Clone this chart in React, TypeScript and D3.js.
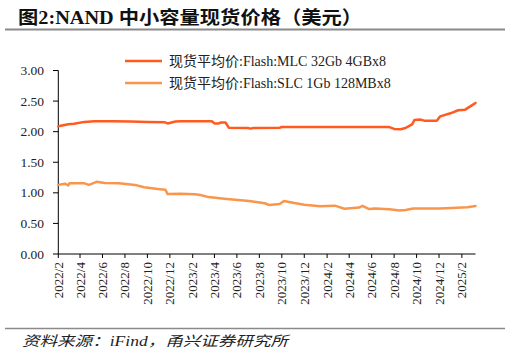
import React from "react";
import * as d3 from "d3";

const titleText = "图2:NAND 中小容量现货价格（美元）";
const sourceText = "资料来源：iFind，甬兴证券研究所";
const seriesNames = ["现货平均价:Flash:MLC 32Gb 4GBx8", "现货平均价:Flash:SLC 1Gb 128MBx8"];
const seriesColors = ["#FF5A1F", "#F9964C"];

const xTickLabels = [
  "2022/2", "2022/4", "2022/6", "2022/8", "2022/10", "2022/12",
  "2023/2", "2023/4", "2023/6", "2023/8", "2023/10", "2023/12",
  "2024/2", "2024/4", "2024/6", "2024/8", "2024/10", "2024/12", "2025/2",
];
const yTicks = [0, 0.5, 1, 1.5, 2, 2.5, 3];

const mlcDates = [
  "2022-02-01", "2022-02-28", "2022-03-16", "2022-04-13", "2022-05-10", "2022-07-01",
  "2022-08-16", "2022-10-01", "2022-11-16", "2022-11-25", "2022-12-16", "2023-01-01",
  "2023-03-25", "2023-04-01", "2023-04-13", "2023-04-19", "2023-05-01", "2023-05-10",
  "2023-07-01", "2023-07-07", "2023-07-16", "2023-09-25", "2023-10-01", "2024-07-19",
  "2024-08-01", "2024-08-19", "2024-09-01", "2024-09-10", "2024-09-19", "2024-09-25",
  "2024-10-10", "2024-10-22", "2024-11-25", "2024-12-04", "2025-01-01", "2025-01-22",
  "2025-02-10", "2025-02-28", "2025-03-10",
];
const mlcValues = [
  2.09, 2.12, 2.13, 2.16, 2.17, 2.17,
  2.165, 2.16, 2.155, 2.135, 2.165, 2.17,
  2.17, 2.135, 2.135, 2.15, 2.15, 2.065,
  2.06, 2.05, 2.06, 2.065, 2.075, 2.075,
  2.045, 2.04, 2.06, 2.09, 2.12, 2.19,
  2.2, 2.18, 2.18, 2.25, 2.3, 2.35,
  2.36, 2.43, 2.47,
];

const slcDates = [
  "2022-02-01", "2022-02-19", "2022-02-28", "2022-03-03", "2022-04-13", "2022-04-25",
  "2022-05-04", "2022-05-16", "2022-06-07", "2022-07-16", "2022-08-28", "2022-09-22",
  "2022-11-04", "2022-11-19", "2022-11-25", "2022-12-28", "2023-02-07", "2023-02-22",
  "2023-03-16", "2023-04-28", "2023-07-04", "2023-08-16", "2023-08-28", "2023-09-25",
  "2023-10-07", "2023-11-04", "2023-12-01", "2024-01-13", "2024-02-22", "2024-03-19",
  "2024-04-28", "2024-05-07", "2024-05-25", "2024-06-10", "2024-07-19", "2024-08-16",
  "2024-09-01", "2024-09-22", "2024-12-04", "2025-02-16", "2025-03-10",
];
const slcValues = [
  1.13, 1.15, 1.12, 1.155, 1.155, 1.13,
  1.15, 1.18, 1.16, 1.155, 1.13, 1.09,
  1.06, 1.05, 0.98, 0.985, 0.975, 0.965,
  0.93, 0.905, 0.866, 0.83, 0.8, 0.817,
  0.866, 0.833, 0.806, 0.78, 0.79, 0.74,
  0.76, 0.785, 0.735, 0.745, 0.73, 0.71,
  0.72, 0.745, 0.745, 0.765, 0.785,
];

const parseDate = d3.timeParse("%Y-%m-%d");
const parseTick = d3.timeParse("%Y/%m");

export default function App() {
  const W = 509, H = 355;
  const x = d3
    .scaleTime()
    .domain([parseDate("2022-02-01")!, parseDate("2025-03-10")!])
    .range([58.3, 475.5]);
  const y = d3.scaleLinear().domain([0, 3]).range([254, 70.5]);

  const line = d3
    .line<[Date, number]>()
    .x((d) => x(d[0]))
    .y((d) => y(d[1]))
    .curve(d3.curveLinear);

  const series = [
    mlcDates.map((d, i) => [parseDate(d)!, mlcValues[i]] as [Date, number]),
    slcDates.map((d, i) => [parseDate(d)!, slcValues[i]] as [Date, number]),
  ];

  const serif = "'Liberation Serif', 'Times New Roman', 'Noto Sans CJK SC', serif";
  const xTicks = xTickLabels.map((l) => ({ label: l, date: parseTick(l)! }));

  return (
    <svg width={W} height={H} style={{ position: "absolute", left: 0, top: 0, background: "#fff" }}>
      <text
        x={18}
        y={24}
        fontFamily={serif}
        fontWeight="bold"
        fontSize={18.5}
        textLength={344}
        lengthAdjust="spacingAndGlyphs"
        fill="#111"
      >
        {titleText}
      </text>
      <line x1={5} x2={505} y1={29.5} y2={29.5} stroke="#8a8a8a" strokeWidth={2} />

      {/* Legend */}
      {seriesNames.map((n, i) => (
        <g key={n} transform={`translate(0, ${61 + i * 22})`}>
          <line x1={125} x2={162} y1={0} y2={0} stroke={seriesColors[i]} strokeWidth={2.5} />
          <text x={169} y={4.8} fontFamily={serif} fontSize={14} fill="#222">
            {n}
          </text>
        </g>
      ))}

      {/* Y axis */}
      <line x1={58.3} x2={58.3} y1={y(3)} y2={y(0)} stroke="#000" strokeWidth={1} />
      {yTicks.map((t) => (
        <g key={t}>
          <line x1={53} x2={58.3} y1={y(t)} y2={y(t)} stroke="#000" />
          <text
            x={44}
            y={y(t) + 4.5}
            textAnchor="end"
            fontFamily={serif}
            fontSize={13.5}
            fill="#222"
          >
            {d3.format(".2f")(t)}
          </text>
        </g>
      ))}

      {/* X axis */}
      <line x1={58.3} x2={475.5} y1={y(0)} y2={y(0)} stroke="#000" strokeWidth={1} />
      {xTicks.map((t) => {
        const xx = x(t.date);
        return (
          <g key={t.label}>
            <line x1={xx} x2={xx} y1={y(0)} y2={y(0) + 4} stroke="#000" />
            <text
              transform={`translate(${xx + 4.5}, ${y(0) + 8}) rotate(-90)`}
              textAnchor="end"
              fontFamily={serif}
              fontSize={13}
              fill="#222"
            >
              {t.label}
            </text>
          </g>
        );
      })}

      {/* Lines */}
      {series.map((s, i) => (
        <path
          key={i}
          d={line(s) || ""}
          fill="none"
          stroke={seriesColors[i]}
          strokeWidth={2.5}
          strokeLinejoin="round"
          strokeLinecap="round"
        />
      ))}

      <line x1={5} x2={505} y1={328.5} y2={328.5} stroke="#8a8a8a" strokeWidth={1.5} />
      <text
        x={22}
        y={346}
        fontFamily={serif}
        fontStyle="italic"
        fontSize={14}
        textLength={266}
        lengthAdjust="spacingAndGlyphs"
        fill="#222"
      >
        {sourceText}
      </text>
    </svg>
  );
}
